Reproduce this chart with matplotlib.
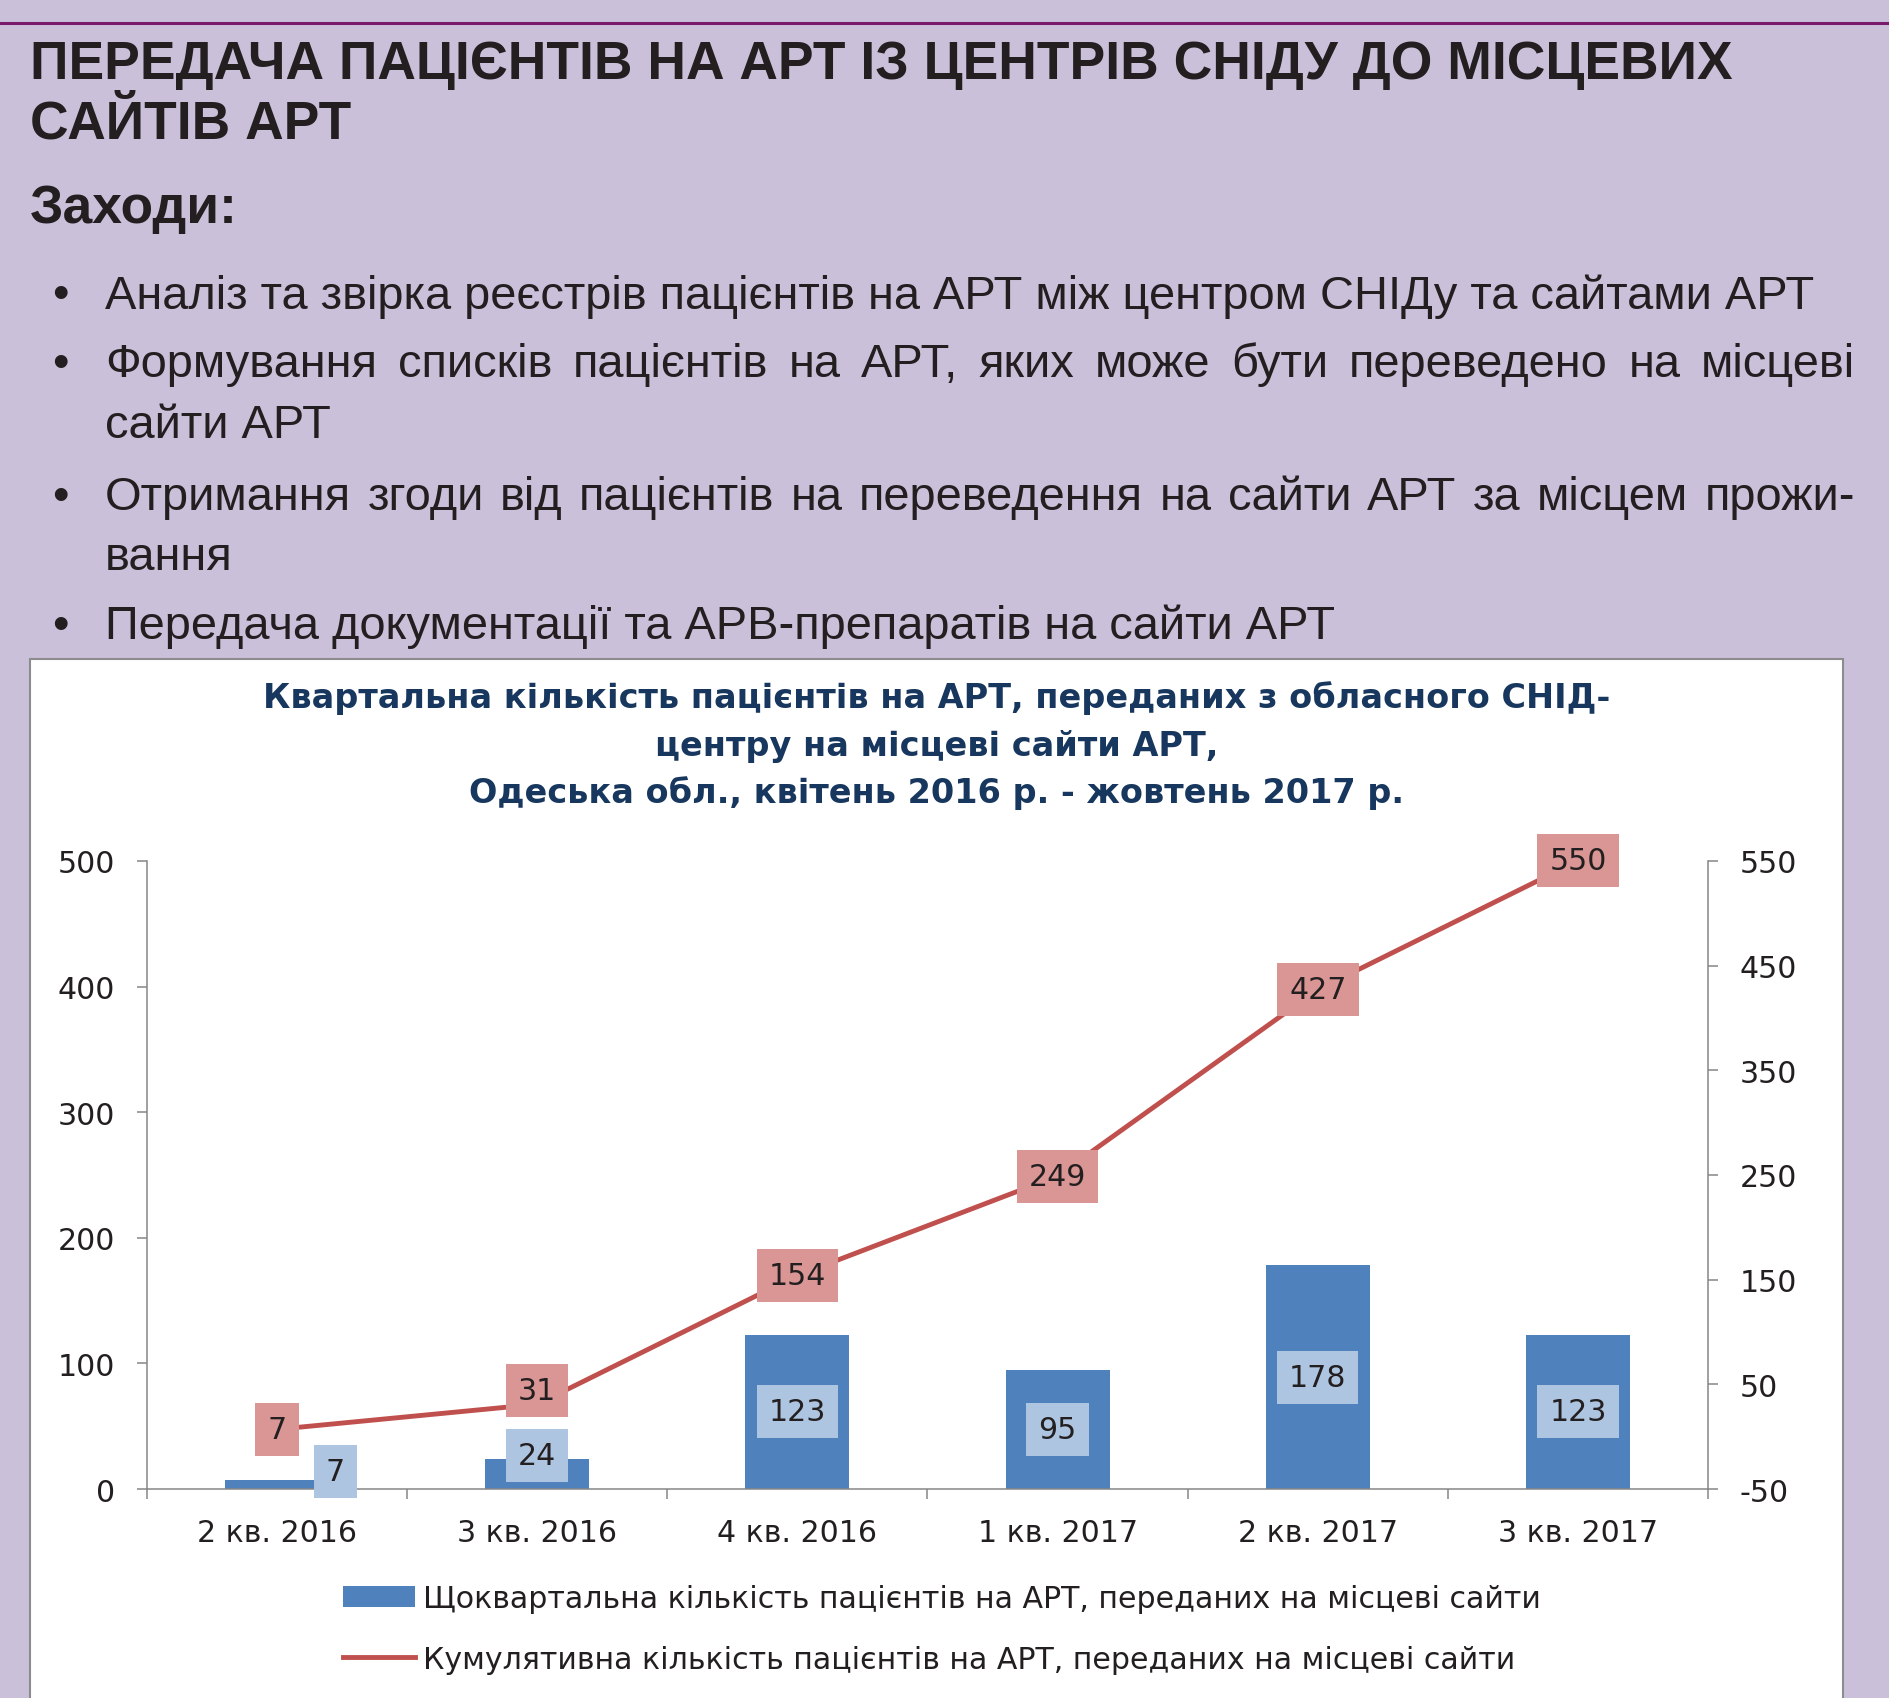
import numpy as np
import matplotlib
matplotlib.use('Agg')
import matplotlib.pyplot as plt
from matplotlib.patches import Rectangle, Patch
from matplotlib.lines import Line2D

# data
quarters = ['2 кв. 2016', '3 кв. 2016', '4 кв. 2016', '1 кв. 2017', '2 кв. 2017', '3 кв. 2017']
quarterly = [7, 24, 123, 95, 178, 123]
cumulative = [7, 31, 154, 249, 427, 550]
left_ticks = [0, 100, 200, 300, 400, 500]
right_ticks = [-50, 50, 150, 250, 350, 450, 550]

page_title = ['ПЕРЕДАЧА ПАЦІЄНТІВ НА АРТ ІЗ ЦЕНТРІВ СНІДУ ДО МІСЦЕВИХ', 'САЙТІВ АРТ']
subhead = 'Заходи:'
bullets = [
    ['Аналіз та звірка реєстрів пацієнтів на АРТ між центром СНІДу та сайтами АРТ'],
    ['Формування списків пацієнтів на АРТ, яких може бути переведено на місцеві', 'сайти АРТ'],
    ['Отримання згоди від пацієнтів на переведення на сайти АРТ за місцем прожи-', 'вання'],
    ['Передача документації та АРВ-препаратів на сайти АРТ'],
]
chart_title = ['Квартальна кількість пацієнтів на АРТ, переданих з обласного СНІД-',
               'центру на місцеві сайти АРТ,',
               'Одеська обл., квітень 2016 р. - жовтень 2017 р.']
legend_labels = ['Щоквартальна кількість пацієнтів на АРТ, переданих на місцеві сайти',
                 'Кумулятивна кількість пацієнтів на АРТ, переданих на місцеві сайти']

BG = '#cbc0da'
BLUE = '#4f81bd'
RED = '#c0504d'
AXC = '#868686'
TXT = '#231f20'
FS = 21.6

plt.rcParams['axes.unicode_minus'] = False

fig = plt.figure(figsize=(18.89, 16.99), dpi=100, facecolor=BG)
r = fig.canvas.get_renderer()
page_font = 'Liberation Sans'

# top rule
fig.add_artist(Line2D([0, 1], [1 - 24 / 1699] * 2, transform=fig.transFigure,
                      color='#7a1a6b', lw=2.2))

# page heading
for line, y in zip(page_title, [0.962, 0.9265]):
    fig.text(0.0159, y, line, family=page_font, fontsize=38.4, fontweight='bold',
             color=TXT, va='center')
fig.text(0.0159, 0.877, subhead, family=page_font, fontsize=38.4, fontweight='bold',
         color=TXT, va='center')


def put_justified(line, y, x0, x1, **kw):
    words = line.split(' ')
    texts = [fig.text(0, y, w, va='center', **kw) for w in words]
    widths = [t.get_window_extent(r).width / fig.bbox.width for t in texts]
    gap = (x1 - x0 - sum(widths)) / (len(words) - 1)
    x = x0
    for t, w in zip(texts, widths):
        t.set_x(x)
        x += w + gap


bullet_y = [[0.8255], [0.7854, 0.7495], [0.7071, 0.6718], [0.6312]]
bkw = dict(family=page_font, fontsize=33.8, color=TXT)
for lines, ys in zip(bullets, bullet_y):
    fig.text(0.0318, ys[0], '•', ha='center', va='center', **bkw)
    for k, (line, y) in enumerate(zip(lines, ys)):
        if len(lines) > 1 and k < len(lines) - 1:
            put_justified(line, y, 0.0556, 0.982, **bkw)
        else:
            fig.text(0.0556, y, line, va='center', **bkw)

# chart box
fig.patches.append(Rectangle((0.0159, -0.01), 0.9598, 0.6215, transform=fig.transFigure,
                             facecolor='white', edgecolor='#8c8c8c', lw=1.5, zorder=-1))
for line, y in zip(chart_title, [0.5889, 0.5607, 0.533]):
    fig.text(0.4958, y, line, ha='center', va='center', fontsize=24.1,
             fontweight='bold', color='#17375e')

ax = fig.add_axes([0.0778, 0.1230, 0.8264, 0.3697])
ax.set_facecolor('none')
x = np.arange(len(quarters))
ax.bar(x, quarterly, width=0.4, color=BLUE, zorder=2)
ax.set_xlim(-0.5, len(quarters) - 0.5)
ax.set_ylim(0, 500)
ax.set_yticks(left_ticks)
ax.set_xticks(x)
ax.set_xticklabels(quarters)
ax.set_xticks(np.arange(-0.5, len(quarters), 1), minor=True)
ax.tick_params(axis='x', which='major', length=0, pad=21, labelsize=FS, labelcolor=TXT)
ax.tick_params(axis='x', which='minor', length=7, width=1.1, color=AXC)
ax.tick_params(axis='y', length=7, width=1.1, color=AXC, pad=16, labelsize=FS, labelcolor=TXT)

ax2 = ax.twinx()
ax2.plot(x, cumulative, color=RED, lw=3.5, zorder=2)
ax2.set_ylim(-50, 550)
ax2.set_yticks(right_ticks)
ax2.tick_params(axis='y', length=7, width=1.1, color=AXC, pad=16, labelsize=FS, labelcolor=TXT)

for a in (ax, ax2):
    a.spines['top'].set_visible(False)
    for s in a.spines.values():
        s.set_color(AXC)
        s.set_linewidth(1.1)
ax.spines['right'].set_visible(False)
ax2.spines['left'].set_visible(False)
ax2.spines['bottom'].set_visible(False)

# data labels
bar_offsets = {0: (42, 9.5), 1: (0, 13)}
for i, v in enumerate(quarterly):
    ax.annotate(str(v), (x[i], v / 2), xytext=bar_offsets.get(i, (0, 0)),
                textcoords='offset points', ha='center', va='center', fontsize=FS,
                color=TXT, zorder=3,
                bbox=dict(boxstyle='square,pad=0.4', fc='#adc5e0', ec='none'))
line_offsets = {1: (0, 10)}
for i, v in enumerate(cumulative):
    ax2.annotate(str(v), (x[i], v), xytext=line_offsets.get(i, (0, 0)),
                 textcoords='offset points', ha='center', va='center', fontsize=FS,
                 color=TXT, zorder=3,
                 bbox=dict(boxstyle='square,pad=0.4', fc='#d99694', ec='none'))

handles = [Patch(facecolor=BLUE), Line2D([], [], color=RED, lw=3.5)]
fig.legend(handles, legend_labels, loc='center left', bbox_to_anchor=(0.1816, 0.0406),
           frameon=False, fontsize=FS, handlelength=2.4, handletextpad=0.28,
           labelspacing=1.05, borderpad=0, borderaxespad=0, labelcolor=TXT)

plt.savefig('out.png', dpi=100, facecolor=BG)
